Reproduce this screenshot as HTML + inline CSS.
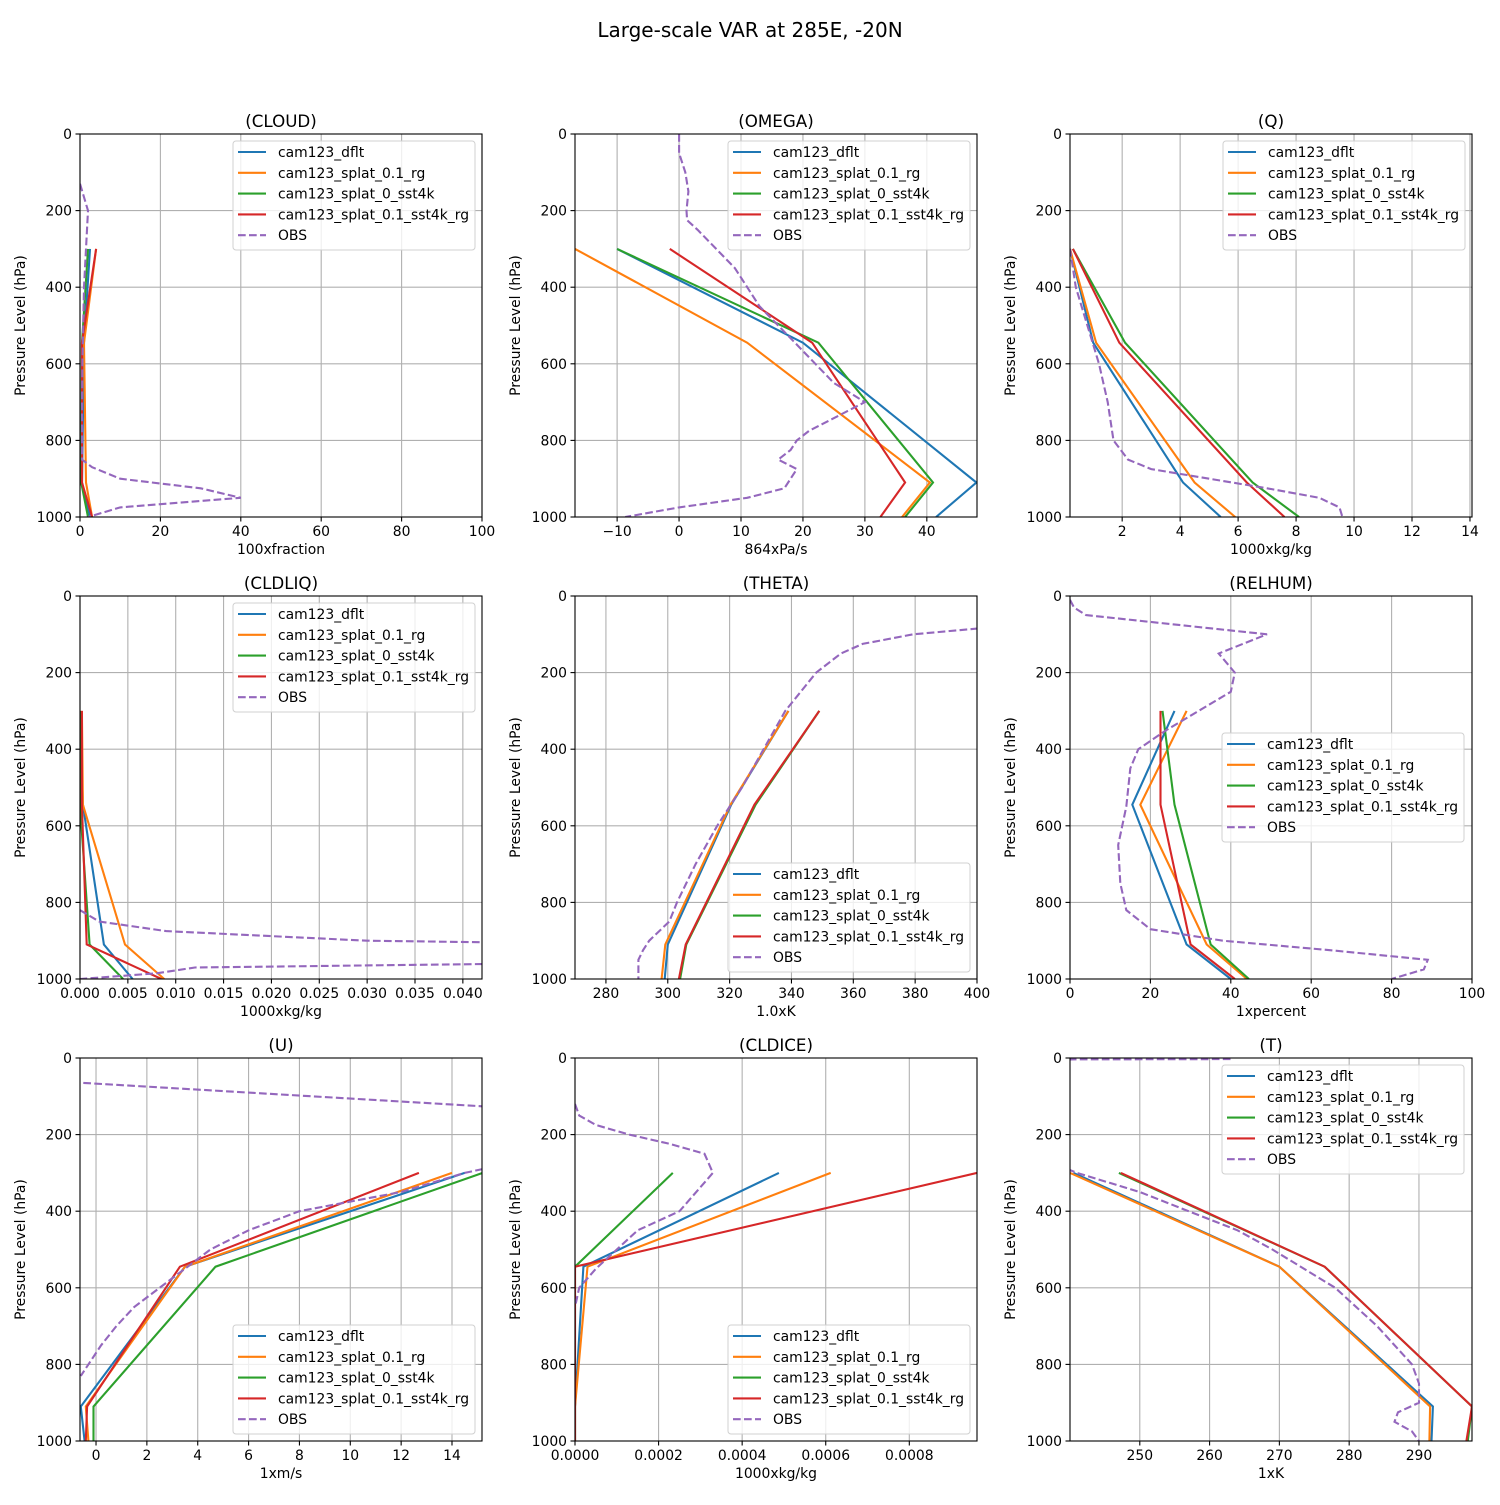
<!DOCTYPE html>
<html><head><meta charset="utf-8"><style>
body{margin:0;background:#fff;font-family:"Liberation Sans","DejaVu Sans",sans-serif}
svg text{font-family:"DejaVu Sans","Liberation Sans",sans-serif}
</style></head><body>
<svg id="fig" width="1500" height="1500" xmlns="http://www.w3.org/2000/svg">
<rect width="1500" height="1500" fill="#fff"/>
<text x="750" y="37" font-size="20" text-anchor="middle">Large-scale VAR at 285E, -20N</text>
</svg>
<script>
const levels=[300,545,910,1000];
const seriesNames=["cam123_dflt","cam123_splat_0.1_rg","cam123_splat_0_sst4k","cam123_splat_0.1_sst4k_rg","OBS"];
const colors=["#1f77b4","#ff7f0e","#2ca02c","#d62728","#9467bd"];
const yTicks=[0,200,400,600,800,1000];
// CLOUD
const cloudModel=[[2.5,1,0.5,2.5],[4,1,1.5,3],[2,0.5,0.3,2],[4,0.5,0.5,3]];
const cloudObsP=[130,200,300,400,500,600,700,850,870,900,925,950,975,1000];
const cloudObsV=[0,2,1.5,1,0.8,0.6,0.5,0.5,3,10,30,40,10,2];
// OMEGA
const omegaModel=[[-10,20,48,41.5],[-16.8,11,40.5,36],[-10,22.5,41,36.5],[-1.5,21.5,36.5,32.5]];
const omegaObsP=[0,50,100,150,200,225,250,300,350,400,450,500,550,600,650,700,750,775,800,825,850,875,900,925,950,975,1000];
const omegaObsV=[0,0,1,1.5,1.2,1.3,3,6,9,11,13,16,19,22,25,30,24,21,19,18,16,19,18,17,11,0,-8.7];
// Q
const qModel=[[0.2,1,4.1,5.4],[0.2,1.1,4.5,5.9],[0.3,2.1,6.5,8.1],[0.3,1.9,6.3,7.6]];
const qObsP=[300,400,500,600,700,800,850,875,900,925,950,975,1000];
const qObsV=[0.2,0.4,0.8,1.2,1.5,1.7,2.2,3,5,7,8.8,9.5,9.6];
// CLDLIQ
const liqModel=[[0,0.0003,0.0025,0.0055],[0.0002,0.0003,0.0047,0.0088],[0,0,0.001,0.0045],[0.0002,0.0002,0.0007,0.0085]];
const liqObsP=[820,850,875,900,905,960,970,985,1000];
const liqObsV=[0,0.002,0.009,0.03,0.045,0.045,0.012,0.008,0];
// THETA
const thetaModel=[[339,320.5,300,299],[339,320.3,299.2,298],[349,328.4,306,304],[349,328,305.8,303.6]];
const thetaObsP=[50,85,100,125,150,200,250,300,400,500,600,700,800,850,900,925,950,1000];
const thetaObsV=[450,400,379.4,363,356,348,343,338,331,324,316,309,303,300.5,294,292,290.5,290.5];
// RELHUM
const rhModel=[[26,15.5,29,40],[29,17.5,34,44],[23,26,35,44.5],[22.5,22.5,30,41]];
const rhObsP=[10,30,50,100,150,200,250,300,350,400,450,550,650,750,820,870,900,925,950,975,1000];
const rhObsV=[0,1,4,49,37,41,40,32,24,17,15,14,12,12.5,14,20,38,65,89,88,80];
// U
const uModel=[[14.5,3.5,-0.6,-0.45],[14,3.5,-0.4,-0.3],[15.2,4.7,-0.1,-0.1],[12.7,3.3,-0.35,-0.4]];
const uObsP=[65,126,200,290,300,350,400,450,500,550,600,650,700,750,800,830];
const uObsV=[-0.5,15.2,25,15.2,14.5,12,8,6,4.5,3.5,2.5,1.5,0.8,0.2,-0.3,-0.6];
// CLDICE
const iceModel=[[0.000488,0.00002,0,0],[0.000612,0.00003,0,0],[0.000234,0,0,0],[0.000962,0,0,0]];
const iceObsP=[120,150,175,200,225,250,300,400,450,550,600,650];
const iceObsV=[0,0.00001,0.00005,0.00013,0.00023,0.00031,0.00033,0.00025,0.00015,0.00005,0.00001,0];
// T
const tModel=[[240.5,270,292,291.8],[240,270,291.6,291.5],[247,276.5,297.6,297],[247.3,276.5,297.6,296.8]];
const tObsP=[3,5,300,350,400,450,500,600,700,800,850,900,925,950,975,1000];
const tObsV=[263,200,241,250,257,264,269,278,284,289,290,290,287,286.5,289,290];

const panels=[
 {t:"(CLOUD)",key:"cloud",xl:"100xfraction",x0:0,x1:100,ticks:[0,20,40,60,80,100],dec:0,m:cloudModel,op:cloudObsP,ov:cloudObsV,lg:[233,141]},
 {t:"(OMEGA)",key:"omega",xl:"864xPa/s",x0:-16.8,x1:48.1,ticks:[-10,0,10,20,30,40],dec:0,m:omegaModel,op:omegaObsP,ov:omegaObsV,lg:[728,141]},
 {t:"(Q)",key:"q",xl:"1000xkg/kg",x0:0.2,x1:14.07,ticks:[2,4,6,8,10,12,14],dec:0,m:qModel,op:qObsP,ov:qObsV,lg:[1223,141]},
 {t:"(CLDLIQ)",key:"cldliq",xl:"1000xkg/kg",x0:0,x1:0.042,ticks:[0,0.005,0.01,0.015,0.02,0.025,0.03,0.035,0.04],dec:3,m:liqModel,op:liqObsP,ov:liqObsV,lg:[233,603]},
 {t:"(THETA)",key:"theta",xl:"1.0xK",x0:270,x1:400,ticks:[280,300,320,340,360,380,400],dec:0,m:thetaModel,op:thetaObsP,ov:thetaObsV,lg:[728,863]},
 {t:"(RELHUM)",key:"relhum",xl:"1xpercent",x0:0,x1:100,ticks:[0,20,40,60,80,100],dec:0,m:rhModel,op:rhObsP,ov:rhObsV,lg:[1222,733]},
 {t:"(U)",key:"u",xl:"1xm/s",x0:-0.63,x1:15.18,ticks:[0,2,4,6,8,10,12,14],dec:0,m:uModel,op:uObsP,ov:uObsV,lg:[233,1325]},
 {t:"(CLDICE)",key:"cldice",xl:"1000xkg/kg",x0:0,x1:0.000962,ticks:[0,0.0002,0.0004,0.0006,0.0008],dec:4,m:iceModel,op:iceObsP,ov:iceObsV,lg:[728,1325]},
 {t:"(T)",key:"t",xl:"1xK",x0:240,x1:297.6,ticks:[250,260,270,280,290],dec:0,m:tModel,op:tObsP,ov:tObsV,lg:[1222,1065]}
];
const NS="http://www.w3.org/2000/svg";
const svg=document.getElementById("fig");
function mk(tag,attrs,parent){const e=document.createElementNS(NS,tag);for(const k in attrs)e.setAttribute(k,attrs[k]);(parent||svg).appendChild(e);return e;}
const colX=[80,575,1070],rowY=[134,596,1058],W=402,H=383;
const defs=mk("defs",{});
panels.forEach((p,i)=>{
 const ax=colX[i%3],ay=rowY[Math.floor(i/3)];
 const sx=v=>ax+(v-p.x0)/(p.x1-p.x0)*W;
 const sy=v=>ay+v/1000*H;
 const g=mk("g",{});
 
 
 const cp=mk("clipPath",{id:"cp"+i},defs);mk("rect",{x:ax,y:ay,width:W,height:H},cp);
 p.ticks.forEach(t=>{const x=sx(t);mk("line",{x1:x,x2:x,y1:ay,y2:ay+H,stroke:"#b0b0b0","stroke-width":1.1},g);
  mk("line",{x1:x,x2:x,y1:ay+H,y2:ay+H+4.5,stroke:"#000","stroke-width":1.1},g);
  const tx=mk("text",{x:x,y:ay+H+19,"font-size":13.9,"text-anchor":"middle"},g);
  
  
  tx.textContent=(t<0?"\u2212":"")+Math.abs(t).toFixed(p.dec);});
 yTicks.forEach(t=>{const y=sy(t);mk("line",{x1:ax,x2:ax+W,y1:y,y2:y,stroke:"#b0b0b0","stroke-width":1.1},g);
  mk("line",{x1:ax-4.5,x2:ax,y1:y,y2:y,stroke:"#000","stroke-width":1.1},g);
  const tx=mk("text",{x:ax-8,y:y+5,"font-size":13.9,"text-anchor":"end"},g);
  
  
  tx.textContent=t;});
 const dg=mk("g",{"clip-path":"url(#cp"+i+")"},g);
 p.m.forEach((vals,s)=>{const pts=vals.map((v,k)=>sx(v).toFixed(1)+","+sy(levels[k]).toFixed(1)).join(" ");
  const l=mk("polyline",{points:pts,fill:"none",stroke:colors[s],"stroke-width":2.1},dg);
  
  });
 const opts=p.ov.map((v,k)=>sx(v).toFixed(1)+","+sy(p.op[k]).toFixed(1)).join(" ");
 const ol=mk("polyline",{points:opts,fill:"none",stroke:colors[4],"stroke-width":2.1,"stroke-dasharray":"7.7,3.3"},dg);
 
 
 mk("rect",{x:ax,y:ay,width:W,height:H,fill:"none",stroke:"#000","stroke-width":1.1},g);
 const ti=mk("text",{x:ax+W/2,y:ay-7,"font-size":16.7,"text-anchor":"middle"},g);
 
 
 ti.textContent=p.t;
 const xt=mk("text",{x:ax+W/2,y:ay+H+37,"font-size":13.9,"text-anchor":"middle"},g);
 
 
 xt.textContent=p.xl;
 const yx=ax-55,yy=ay+H/2;
 const yt=mk("text",{x:yx,y:yy,"font-size":13.9,"text-anchor":"middle",transform:"rotate(-90 "+yx+" "+yy+")"},g);
 
 
 yt.textContent="Pressure Level (hPa)";
 const [lx,ly]=p.lg;
 const lg=mk("g",{},g);
 
 
 mk("rect",{x:lx,y:ly,width:242,height:109,rx:3,fill:"#fff","fill-opacity":0.8,stroke:"#d0d0d0","stroke-width":1},lg);
 seriesNames.forEach((n,s)=>{const yy2=ly+11+s*20.8;
  const hl=mk("line",{x1:lx+5,x2:lx+33,y1:yy2,y2:yy2,stroke:colors[s],"stroke-width":2.1},lg);
  if(s==4)hl.setAttribute("stroke-dasharray","7.7,3.3");
  const lt=mk("text",{x:lx+45,y:yy2+5,"font-size":13.9},lg);
  
  
  lt.textContent=n;});
});
</script>
</body></html>
